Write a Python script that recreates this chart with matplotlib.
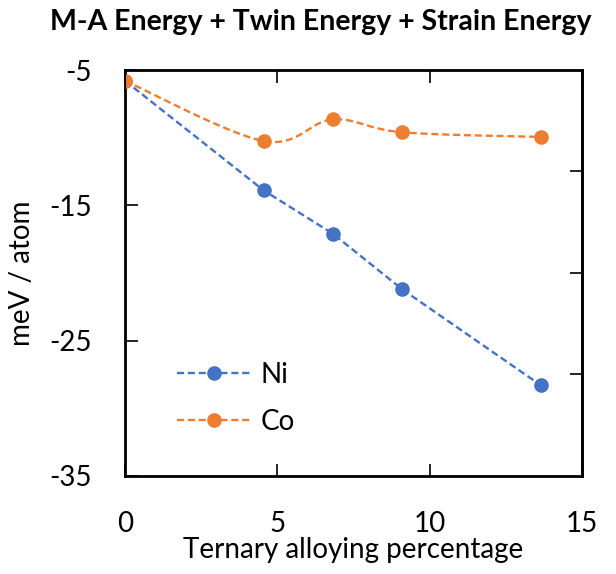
import numpy as np
import matplotlib.pyplot as plt
from matplotlib.lines import Line2D

plt.rcParams['font.family'] = ['Lato', 'DejaVu Sans']
plt.rcParams['axes.unicode_minus'] = False

x = [0, 4.55, 6.82, 9.09, 13.64]
ni = [-5.8, -13.9, -17.1, -21.2, -28.3]
co = [-5.8, -10.25, -8.65, -9.6, -9.95]

blue = '#4472C4'
orange = '#ED7D31'


def smooth(xs, ys, n=30):
    # excel-like smoothed line (bezier through the points)
    p = np.column_stack([xs, ys]).astype(float)
    p = np.vstack([p[0], p, p[-1]])
    out = []
    for i in range(1, len(p) - 2):
        p0, p1, p2, p3 = p[i], p[i] + (p[i + 1] - p[i - 1]) / 6, p[i + 1] - (p[i + 2] - p[i]) / 6, p[i + 1]
        t = np.linspace(0, 1, n)[:, None]
        seg = (1 - t) ** 3 * p0 + 3 * (1 - t) ** 2 * t * p1 + 3 * (1 - t) * t ** 2 * p2 + t ** 3 * p3
        out.append(seg if i == 1 else seg[1:])
    out = np.vstack(out)
    return out[:, 0], out[:, 1]


fig = plt.figure(figsize=(6.16, 5.74), dpi=100)
ax = fig.add_axes([0.203, 0.171, 0.742, 0.707])

ax.plot(x, ni, color=blue, lw=1.7, ls=(0, (3, 1.6)), marker='o', ms=9.5, zorder=3)
sx, sy = smooth(x, co)
ax.plot(sx, sy, color=orange, lw=1.7, ls=(0, (3, 1.6)), zorder=4)
ax.plot(x, co, color=orange, ls='none', marker='o', ms=9.5, zorder=5)

ax.set_xlim(0, 15)
ax.set_ylim(-35, -5)
ax.set_xticks([0, 5, 10, 15])
ax.set_yticks([-35, -25, -15, -5])
ax.tick_params(direction='in', length=9, width=1.2, labelsize=20, pad=24, top=True)
ax.tick_params(axis='x', pad=25)
for s in ax.spines.values():
    s.set_linewidth(2)

ax2 = ax.twinx()
ax2.set_ylim(-35, -5)
ax2.set_yticks([-27.5, -20, -12.5])
ax2.tick_params(direction='in', length=9, width=1.2, labelright=False)
ax2.spines['right'].set_linewidth(2)

ax.set_xlabel('Ternary alloying percentage', fontsize=20, labelpad=0)
ax.set_ylabel('meV / atom', fontsize=20, labelpad=10)
fig.text(0.52, 0.962, 'M-A Energy + Twin Energy + Strain Energy', ha='center', va='center',
         fontsize=20.5, fontweight='bold')

handles = [Line2D([], [], color=blue, lw=1.7, ls=(0, (3, 1.6)), marker='o', ms=9.5),
           Line2D([], [], color=orange, lw=1.7, ls=(0, (3, 1.6)), marker='o', ms=9.5)]
ax.legend(handles, ['Ni', 'Co'], loc='lower left', bbox_to_anchor=(0.06, 0.04), frameon=False,
          fontsize=20, handlelength=2.6, labelspacing=0.75, handletextpad=0.4)

fig.savefig('out.png', dpi=100)
